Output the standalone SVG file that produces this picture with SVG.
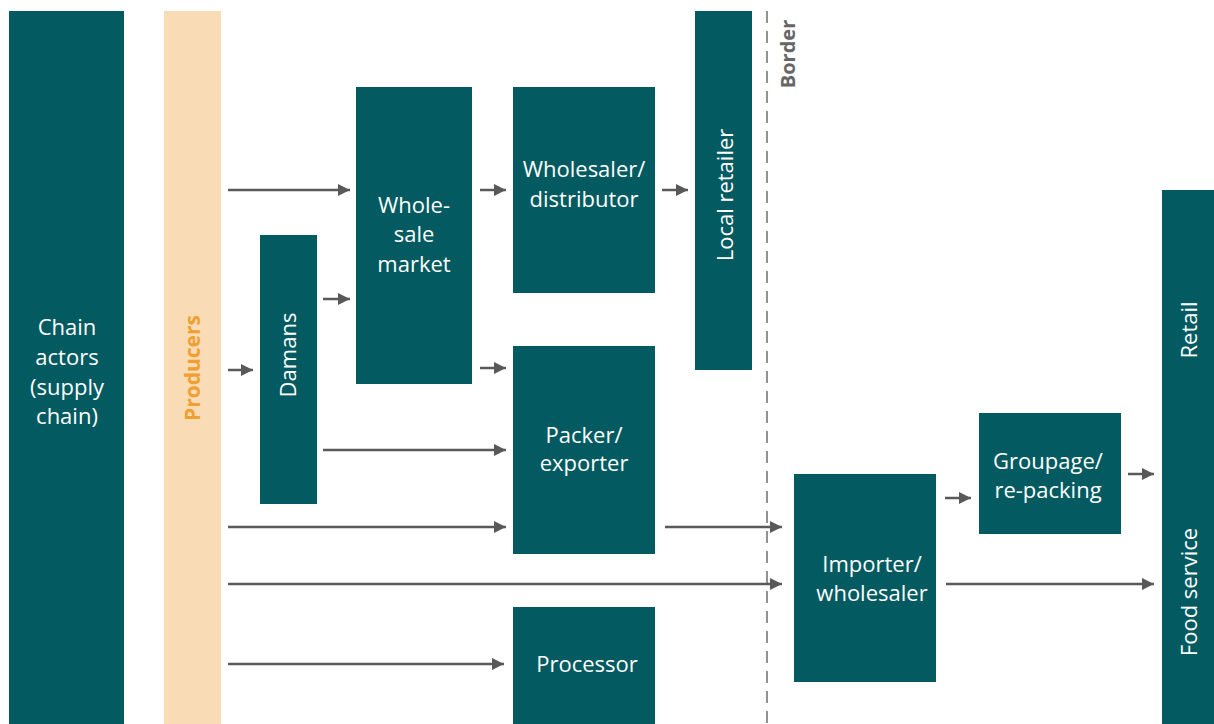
<svg xmlns="http://www.w3.org/2000/svg" width="1214" height="724" viewBox="0 0 1214 724">
  <style>
    .box { fill: #035a60; }
    .lbl { font-family: "Open Sans", "Liberation Sans", sans-serif; font-size: 22px; fill: #ffffff; text-anchor: middle; }
    .arr { stroke: #595959; stroke-width: 2.5; fill: none; marker-end: url(#head); }
  </style>
  <defs>
    <marker id="head" markerWidth="12" markerHeight="12" refX="12" refY="6" orient="auto" markerUnits="userSpaceOnUse">
      <path d="M0,0 L12,6 L0,12 Z" fill="#595959"/>
    </marker>
  </defs>
  <rect width="1214" height="724" fill="#ffffff"/>

  <g id="chain-actors">
    <rect class="box" x="9" y="11" width="115" height="713"/>
    <text class="lbl" x="67" y="335">Chain</text>
    <text class="lbl" x="67" y="365">actors</text>
    <text class="lbl" x="67" y="395">(supply</text>
    <text class="lbl" x="67" y="424">chain)</text>
  </g>

  <g id="producers">
    <rect x="164" y="11" width="57" height="713" fill="#f9dbb5"/>
    <text transform="translate(200,368) rotate(-90)" text-anchor="middle" font-family="Open Sans, Liberation Sans, sans-serif" font-size="21" font-weight="bold" fill="#f0a030">Producers</text>
  </g>

  <g id="damans">
    <rect class="box" x="260" y="235" width="57" height="269"/>
    <text class="lbl" transform="translate(296,355) rotate(-90)">Damans</text>
  </g>

  <g id="wholesale-market">
    <rect class="box" x="356" y="87" width="116" height="297"/>
    <text class="lbl" x="414" y="213">Whole-</text>
    <text class="lbl" x="414" y="242">sale</text>
    <text class="lbl" x="414" y="272">market</text>
  </g>

  <g id="wholesaler-distributor">
    <rect class="box" x="513" y="87" width="142" height="206"/>
    <text class="lbl" x="584" y="177">Wholesaler/</text>
    <text class="lbl" x="584" y="207">distributor</text>
  </g>

  <g id="local-retailer">
    <rect class="box" x="695" y="11" width="57" height="359"/>
    <text class="lbl" transform="translate(733,195) rotate(-90)">Local retailer</text>
  </g>

  <g id="packer-exporter">
    <rect class="box" x="513" y="346" width="142" height="208"/>
    <text class="lbl" x="584" y="443">Packer/</text>
    <text class="lbl" x="584" y="471">exporter</text>
  </g>

  <g id="processor">
    <rect class="box" x="513" y="607" width="142" height="117"/>
    <text class="lbl" x="587" y="672">Processor</text>
  </g>

  <g id="border">
    <line x1="767" y1="11" x2="767" y2="724" stroke="#777777" stroke-width="1.6" stroke-dasharray="12,8"/>
    <text transform="translate(795,54) rotate(-90)" text-anchor="middle" font-family="Open Sans, Liberation Sans, sans-serif" font-size="20" font-weight="bold" fill="#666666">Border</text>
  </g>

  <g id="importer-wholesaler">
    <rect class="box" x="794" y="474" width="142" height="208"/>
    <text class="lbl" x="872" y="572">Importer/</text>
    <text class="lbl" x="872" y="601">wholesaler</text>
  </g>

  <g id="groupage">
    <rect class="box" x="979" y="413" width="142" height="121"/>
    <text class="lbl" x="1048" y="469">Groupage/</text>
    <text class="lbl" x="1048" y="498">re-packing</text>
  </g>

  <g id="retail-food-service">
    <rect class="box" x="1162" y="190" width="52" height="534"/>
    <text class="lbl" transform="translate(1197,330) rotate(-90)">Retail</text>
    <text class="lbl" transform="translate(1197,592) rotate(-90)">Food service</text>
  </g>

  <g id="connectors">
    <line class="arr" x1="228" y1="190" x2="350" y2="190"/>
    <line class="arr" x1="480" y1="190" x2="506" y2="190"/>
    <line class="arr" x1="662" y1="190" x2="688" y2="190"/>
    <line class="arr" x1="323" y1="299" x2="350" y2="299"/>
    <line class="arr" x1="228" y1="370" x2="253" y2="370"/>
    <line class="arr" x1="480" y1="368" x2="506" y2="368"/>
    <line class="arr" x1="323" y1="450" x2="506" y2="450"/>
    <line class="arr" x1="228" y1="527" x2="506" y2="527"/>
    <line class="arr" x1="665" y1="527" x2="782" y2="527"/>
    <line class="arr" x1="228" y1="584" x2="782" y2="584"/>
    <line class="arr" x1="945" y1="498" x2="971" y2="498"/>
    <line class="arr" x1="1128" y1="474" x2="1154" y2="474"/>
    <line class="arr" x1="946" y1="584" x2="1154" y2="584"/>
    <line class="arr" x1="228" y1="664" x2="504" y2="664"/>
  </g>
</svg>
